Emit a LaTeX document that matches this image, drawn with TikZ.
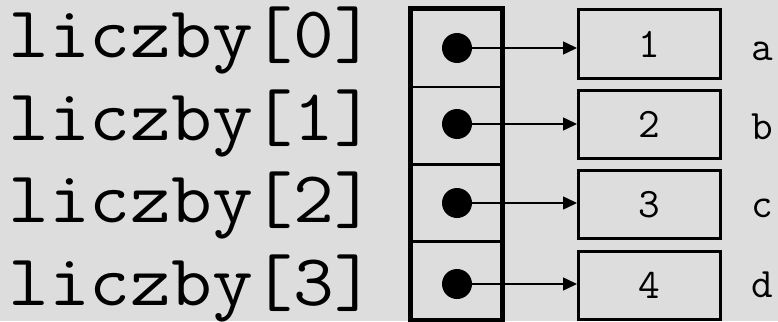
\documentclass[tikz,border=0pt]{standalone}
\usetikzlibrary{arrows.meta,positioning}
\definecolor{bgcol}{HTML}{DDDDDD}

\begin{document}
\begin{tikzpicture}[x=1pt,y=-1pt,
  cell/.style={rectangle,draw,line width=2.5pt,minimum width=90pt,minimum height=77.4pt,inner sep=0pt},
  ptr/.style={circle,fill=black,minimum size=30pt,inner sep=0pt},
  valbox/.style={rectangle,draw,line width=3pt,minimum width=142pt,minimum height=68pt,inner sep=0pt,font=\ttfamily\fontsize{42}{42}\selectfont},
  varname/.style={anchor=base west,inner sep=0pt,xscale=1.085,font=\ttfamily\fontsize{73}{73}\selectfont},
  letter/.style={anchor=base,inner sep=0pt,font=\ttfamily\fontsize{42}{42}\selectfont},
  arrow/.style={-{Triangle[length=14pt,width=13pt]},line width=1.5pt}]
  % Background
  \fill[bgcol] (0,0) rectangle (778,321);
  \useasboundingbox (0,0) rectangle (778,321);

  % Names
  \node[varname] (name0) at (8,57) {liczby[0]};
  \node[varname] (name1) at (8,140) {liczby[1]};
  \node[varname] (name2) at (8,222) {liczby[2]};
  \node[varname] (name3) at (8,305) {liczby[3]};

  % Array cells
  \node[cell] (cell0) at (456.5,48.2) {};
  \node[cell] (cell1) at (456.5,125.6) {};
  \node[cell] (cell2) at (456.5,203.0) {};
  \node[cell] (cell3) at (456.5,280.4) {};
  \draw[line width=5pt] (cell0.north west) rectangle (cell3.south east);

  % Pointers
  \node[ptr] (dot0) at (457,48) {};
  \node[ptr] (dot1) at (457,124) {};
  \node[ptr] (dot2) at (457,203) {};
  \node[ptr] (dot3) at (457,284) {};

  % Values
  \node[valbox] (val0) at (649.5,44) {1};
  \node[valbox] (val1) at (649.5,124) {2};
  \node[valbox] (val2) at (649.5,204.5) {3};
  \node[valbox] (val3) at (649.5,285.5) {4};

  % Letters
  \node[letter] (let0) at (762,60) {a};
  \node[letter] (let1) at (762,139) {b};
  \node[letter] (let2) at (762,217) {c};
  \node[letter] (let3) at (762,297) {d};

  % Arrows
  \draw[arrow] (dot0.center) -- (dot0.center -| val0.west);
  \draw[arrow] (dot1.center) -- (dot1.center -| val1.west);
  \draw[arrow] (dot2.center) -- (dot2.center -| val2.west);
  \draw[arrow] (dot3.center) -- (dot3.center -| val3.west);
\end{tikzpicture}
\end{document}
